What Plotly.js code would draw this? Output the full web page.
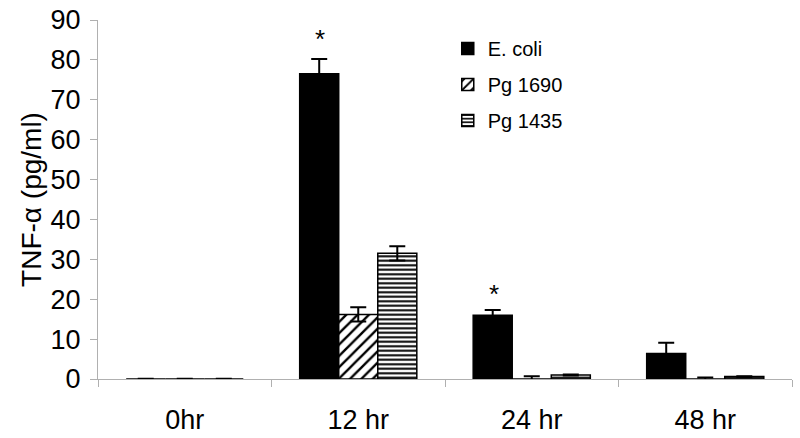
<!DOCTYPE html>
<html>
<head>
<meta charset="utf-8">
<script src="https://cdn.plot.ly/plotly-3.0.1.min.js"></script>
<style>
  html, body { margin: 0; padding: 0; background: #fff; }
  #chart { width: 800px; height: 438px; }
</style>
</head>
<body>
<div id="chart"></div>
<script>
// TNF-alpha response over time
const categories = ['0hr', '12 hr', '24 hr', '48 hr'];

const ecoliValues = [0, 76.5, 16.0, 6.4];
const ecoliErrors = [0.05, 3.7, 1.3, 2.7];

const pg1690Values = [0, 16.2, 0, 0];
const pg1690Errors = [0.05, 1.8, 0.7, 0.4];

const pg1435Values = [0, 31.5, 1.0, 0.6];
const pg1435Errors = [0.05, 1.8, 0.1, 0.1];

// asterisks mark significance (E. coli at 12 hr and 24 hr)
const starCategories = ['12 hr', '24 hr'];
const starValues = [85.3, 21.3];

const font = 'Liberation Sans, Arial, sans-serif';

function errorBars(arr) {
    return { type: 'data', array: arr, visible: true, color: '#000', thickness: 2, width: 8 };
}

const ecoli = {
    x: categories, y: ecoliValues, name: 'E. coli', type: 'bar', legendgroup: 'a',
    marker: { color: '#000', line: { color: '#000', width: 1.5 } },
    error_y: errorBars(ecoliErrors)
};

const pg1690 = {
    x: categories, y: pg1690Values, name: 'Pg 1690', type: 'bar', legendgroup: 'b',
    marker: {
        color: '#fff',
        line: { color: '#000', width: 1.5 },
        pattern: { shape: '/', fgcolor: '#000', bgcolor: '#fff', size: 8, solidity: 0.3 }
    },
    error_y: errorBars(pg1690Errors)
};

const pg1435 = {
    x: categories, y: pg1435Values, name: 'Pg 1435', type: 'bar', legendgroup: 'c',
    marker: {
        color: '#fff',
        line: { color: '#000', width: 1.5 },
        pattern: { shape: '-', fgcolor: '#000', bgcolor: '#fff', size: 4.5, solidity: 0.45 }
    },
    error_y: errorBars(pg1435Errors)
};

const layout = {
    width: 800, height: 438,
    paper_bgcolor: '#fff', plot_bgcolor: '#fff',
    margin: { t: 20, r: 8, b: 59, l: 98 },
    font: { family: font, color: '#000', size: 20 },
    barmode: 'group',
    bargap: 0.325,
    bargroupgap: 0,
    showlegend: true,
    legend: {
        x: 0.504, y: 0.975, xanchor: 'left', yanchor: 'top',
        font: { size: 20, family: font },
        bgcolor: 'rgba(0,0,0,0)',
        itemwidth: 30,
        traceorder: 'grouped',
        tracegroupgap: 7
    },
    xaxis: {
        showline: true, linecolor: '#b0b0b0', linewidth: 1,
        ticks: 'outside', tickson: 'boundaries', ticklen: 7, tickcolor: '#b0b0b0',
        tickfont: { size: 27, family: font },
        ticklabelstandoff: 17,
        showgrid: false, zeroline: false
    },
    yaxis: {
        range: [0, 90], dtick: 10,
        showline: true, linecolor: '#b0b0b0', linewidth: 1,
        ticks: 'outside', ticklen: 7, tickcolor: '#b0b0b0',
        tickfont: { size: 27, family: font },
        ticklabelstandoff: 4,
        showgrid: false, zeroline: false,
        title: { text: 'TNF-\u03b1 (pg/ml)', font: { size: 28, family: font }, standoff: 0 }
    },
    annotations: starCategories.map((c, i) => ({
        x: c, y: starValues[i], xref: 'x', yref: 'y',
        text: '*', showarrow: false, xshift: -38,
        font: { size: 26, family: font, color: '#000' }
    }))
};

Plotly.newPlot('chart', [ecoli, pg1690, pg1435], layout, { displayModeBar: false, staticPlot: true });
</script>
</body>
</html>
